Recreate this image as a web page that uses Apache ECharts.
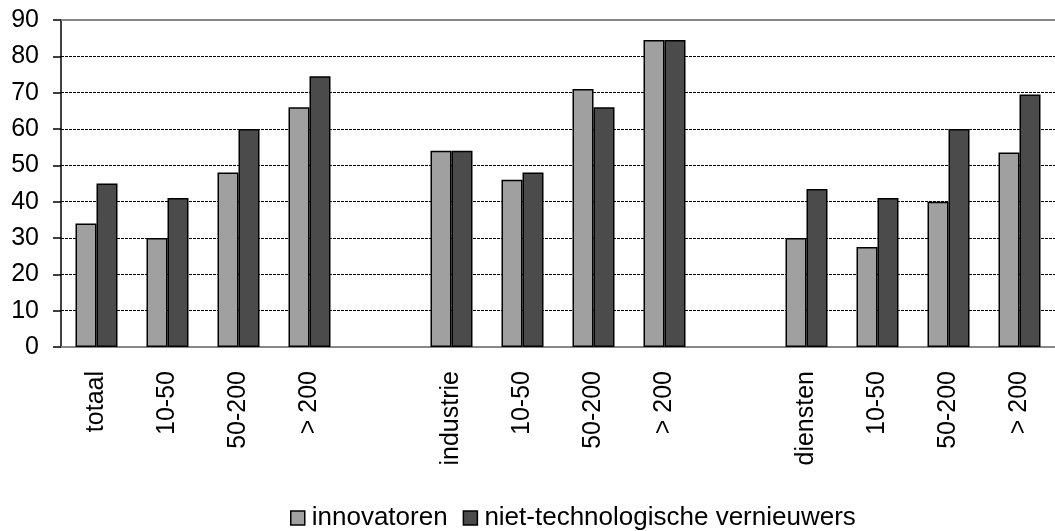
<!DOCTYPE html>
<html>
<head>
<meta charset="utf-8">
<script src="https://cdn.jsdelivr.net/npm/echarts@6/dist/echarts.min.js"></script>
<style>
  html, body { margin: 0; padding: 0; background: #fff; }
  #chart { width: 1055px; height: 531px; }
</style>
</head>
<body>
<div id="chart"></div>
<script>
    // categorieën (lege plekken scheiden de groepen)
    var categories = ['totaal', '10-50', '50-200', '> 200', '', 'industrie', '10-50', '50-200', '> 200', '', 'diensten', '10-50', '50-200', '> 200'];
    var innovatoren = [34, 30, 48, 66, '-', 54, 46, 71, 84.5, '-', 30, 27.5, 40, 53.5];
    var nietTech = [45, 41, 60, 74.5, '-', 54, 48, 66, 84.5, '-', 43.5, 41, 60, 69.5];
    var yTicks = [0, 10, 20, 30, 40, 50, 60, 70, 80, 90];

    var font = 'Liberation Sans, Arial, sans-serif';

    var chart = echarts.init(document.getElementById('chart'));

    var option = {
        animation: false,
        backgroundColor: '#fff',
        grid: {
            left: 61,
            top: 20,
            width: 1006,
            height: 327,
            containLabel: false
        },
        legend: {
            top: 500,
            left: 285,
            icon: 'rect',
            itemWidth: 14,
            itemHeight: 14,
            itemGap: 15,
            itemStyle: { borderColor: '#000', borderWidth: 1.5 },
            textStyle: { color: '#000', fontSize: 26, fontFamily: font, padding: [0, 0, 0, 2] },
            data: ['innovatoren', 'niet-technologische vernieuwers']
        },
        xAxis: [{
            type: 'category',
            data: categories,
            axisLine: { lineStyle: { color: '#888', width: 2 } },
            axisTick: { show: false },
            axisLabel: {
                interval: 0,
                rotate: 90,
                margin: 24,
                color: '#000',
                fontSize: 25,
                fontFamily: font
            }
        }, {
            // alleen de grijze lijn bovenaan
            type: 'category',
            position: 'top',
            data: categories,
            axisLine: { lineStyle: { color: '#888', width: 2 } },
            axisTick: { show: false },
            axisLabel: { show: false }
        }],
        yAxis: {
            type: 'value',
            min: yTicks[0],
            max: yTicks[yTicks.length - 1],
            interval: 10,
            axisLine: { show: true, lineStyle: { color: '#000', width: 1.5 } },
            axisTick: { show: true, length: 8, lineStyle: { color: '#000', width: 1.5 } },
            axisLabel: { color: '#000', fontSize: 25, fontFamily: font, margin: 22 },
            splitLine: {
                show: true,
                lineStyle: { color: '#000', type: [3, 1], width: 1 }
            }
        },
        series: [
            {
                name: 'innovatoren',
                type: 'bar',
                barWidth: 21,
                barGap: '0%',
                data: innovatoren,
                itemStyle: { color: '#a0a0a0', borderColor: '#000', borderWidth: 1.5 }
            },
            {
                name: 'niet-technologische vernieuwers',
                type: 'bar',
                barWidth: 21,
                barGap: '0%',
                data: nietTech,
                itemStyle: { color: '#4b4b4b', borderColor: '#000', borderWidth: 1.5 }
            }
        ]
    };

    chart.setOption(option);
</script>
</body>
</html>
